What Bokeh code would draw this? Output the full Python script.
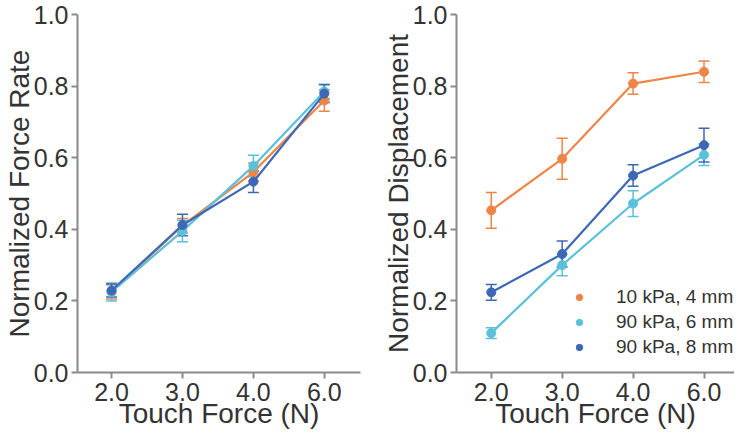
from bokeh.plotting import figure
from bokeh.models import ColumnDataSource, Whisker, TeeHead, FixedTicker, Range1d, Legend, LegendItem
from bokeh.layouts import row
from bokeh.embed import file_html
from bokeh.resources import INLINE

force_labels = ["2.0", "3.0", "4.0", "6.0"]
series_names = ["10 kPa, 4 mm", "90 kPa, 6 mm", "90 kPa, 8 mm"]
series_colors = ["#EE8547", "#5BC0DA", "#3D68B5"]

rate_orange = [0.225, 0.41, 0.56, 0.76]
rate_orange_err = [0.02, 0.02, 0.025, 0.03]
rate_cyan = [0.225, 0.395, 0.577, 0.785]
rate_cyan_err = [0.025, 0.03, 0.03, 0.02]
rate_blue = [0.229, 0.412, 0.533, 0.779]
rate_blue_err = [0.018, 0.03, 0.03, 0.025]

disp_orange = [0.453, 0.597, 0.807, 0.84]
disp_orange_err = [0.05, 0.057, 0.03, 0.03]
disp_cyan = [0.11, 0.30, 0.472, 0.608]
disp_cyan_err = [0.015, 0.03, 0.036, 0.03]
disp_blue = [0.224, 0.331, 0.55, 0.635]
disp_blue_err = [0.022, 0.036, 0.03, 0.047]

FONT = "Liberation Sans"
TXT = "#333333"
AX = "#8a8a8a"


def make_fig(width, ylabel, xr, border_right):
    p = figure(width=width, height=431, output_backend="svg", toolbar_location=None,
               x_range=Range1d(*xr), y_range=Range1d(0, 1.0),
               min_border_left=69, min_border_right=border_right,
               min_border_top=14, min_border_bottom=50)
    p.outline_line_color = None
    p.grid.visible = False
    p.xaxis.ticker = FixedTicker(ticks=list(range(len(force_labels))))
    p.xaxis.major_label_overrides = {i: l for i, l in enumerate(force_labels)}
    p.yaxis.ticker = FixedTicker(ticks=[0.0, 0.2, 0.4, 0.6, 0.8, 1.0])
    p.yaxis.major_label_overrides = {0.0: "0.0", 0.2: "0.2", 0.4: "0.4", 0.6: "0.6", 0.8: "0.8", 1.0: "1.0"}
    for ax in (p.xaxis, p.yaxis):
        ax.axis_line_color = AX
        ax.axis_line_width = 2
        ax.major_tick_line_color = AX
        ax.major_tick_line_width = 2
        ax.major_tick_out = 6
        ax.major_tick_in = 0
        ax.minor_tick_line_color = None
        ax.major_label_text_font = FONT
        ax.major_label_text_font_size = "25px"
        ax.major_label_text_color = TXT
        ax.axis_label_text_font = FONT
        ax.axis_label_text_font_size = "28px"
        ax.axis_label_text_font_style = "normal"
        ax.axis_label_text_color = TXT
    p.xaxis.major_label_standoff = 4
    p.xaxis.axis_label_standoff = -6
    p.yaxis.major_label_standoff = 3
    p.yaxis.axis_label_standoff = -4
    p.xaxis.axis_label = "Touch Force (N)"
    p.yaxis.axis_label = ylabel
    return p


def add_series(p, vals, errs, color):
    xs = list(range(len(force_labels)))
    src = ColumnDataSource(dict(x=xs, y=vals,
                                upper=[v + e for v, e in zip(vals, errs)],
                                lower=[v - e for v, e in zip(vals, errs)]))
    w = Whisker(source=src, base="x", upper="upper", lower="lower", dimension="height",
                line_color=color, line_width=1.5,
                upper_head=TeeHead(size=11, line_color=color, line_width=1.5),
                lower_head=TeeHead(size=11, line_color=color, line_width=1.5))
    p.add_layout(w)
    p.line("x", "y", source=src, line_color=color, line_width=2.2)
    r = p.scatter("x", "y", source=src, size=9, fill_color=color, line_color=color)
    return r


p1 = make_fig(379, "Normalized Force Rate", (-0.48, 3.51), 19)
add_series(p1, rate_orange, rate_orange_err, series_colors[0])
add_series(p1, rate_cyan, rate_cyan_err, series_colors[1])
add_series(p1, rate_blue, rate_blue_err, series_colors[2])

p2 = make_fig(355, "Normalized Displacement", (-0.49, 3.43), 0)
r_o = add_series(p2, disp_orange, disp_orange_err, series_colors[0])
r_c = add_series(p2, disp_cyan, disp_cyan_err, series_colors[1])
r_b = add_series(p2, disp_blue, disp_blue_err, series_colors[2])

legend = Legend(items=[LegendItem(label=series_names[0], renderers=[r_o]),
                       LegendItem(label=series_names[1], renderers=[r_c]),
                       LegendItem(label=series_names[2], renderers=[r_b])],
                location=(115, 14), border_line_color=None, background_fill_alpha=0,
                label_text_font=FONT, label_text_font_size="19px", label_text_color=TXT,
                glyph_width=16, glyph_height=16, label_standoff=29, spacing=3,
                margin=0, padding=4)
p2.add_layout(legend)

layout = row(p1, p2)
open("out.html", "w").write(file_html(layout, INLINE))
